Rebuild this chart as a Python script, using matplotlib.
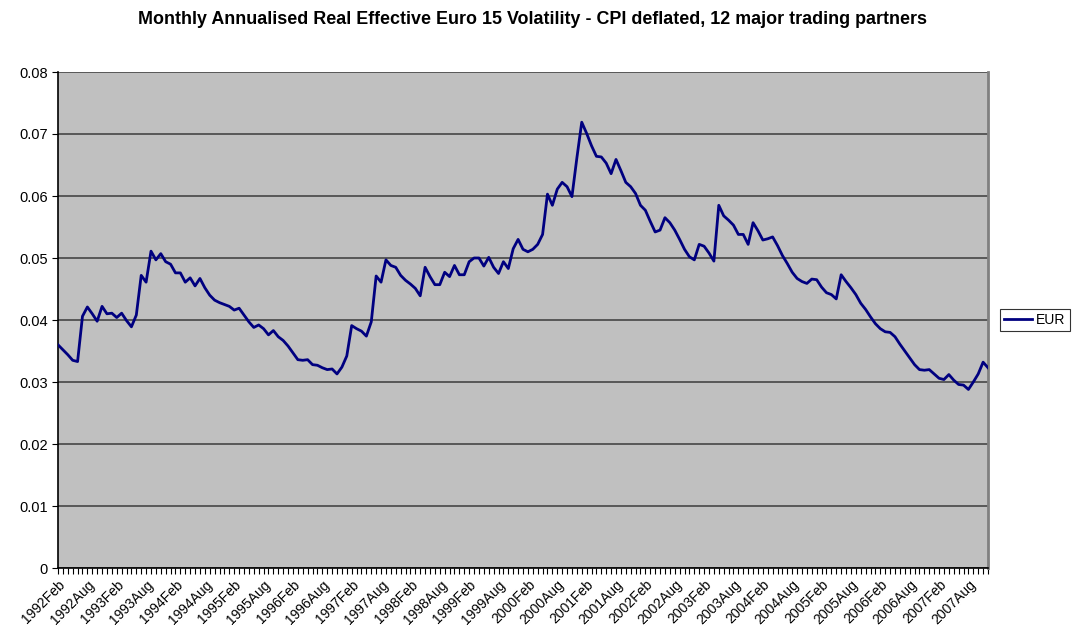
import numpy as np
import pandas as pd
import matplotlib
matplotlib.use("Agg")
import matplotlib.pyplot as plt

plt.rcParams['font.family'] = ['Liberation Sans', 'DejaVu Sans']

# monthly series, 1992 Feb .. 2007 Dec
eur = [
    0.0360, 0.0352, 0.0344, 0.0335, 0.0333, 0.0406, 0.0421, 0.0410, 0.0398, 0.0422,
    0.0410, 0.0411, 0.0404, 0.0411, 0.0399, 0.0389, 0.0408, 0.0472, 0.0461, 0.0511,
    0.0497, 0.0507, 0.0494, 0.0490, 0.0476, 0.0476, 0.0461, 0.0468, 0.0455, 0.0467,
    0.0452, 0.0440, 0.0432, 0.0428, 0.0425, 0.0422, 0.0416, 0.0419, 0.0408, 0.0397,
    0.0388, 0.0392, 0.0386, 0.0376, 0.0383, 0.0373, 0.0367, 0.0358, 0.0347, 0.0336,
    0.0335, 0.0336, 0.0328, 0.0327, 0.0323, 0.0320, 0.0321, 0.0313, 0.0324, 0.0342,
    0.0391, 0.0386, 0.0382, 0.0374, 0.0397, 0.0471, 0.0461, 0.0497, 0.0488, 0.0485,
    0.0472, 0.0464, 0.0458, 0.0451, 0.0439, 0.0485, 0.0470, 0.0457, 0.0457, 0.0477,
    0.0470, 0.0488, 0.0473, 0.0473, 0.0494, 0.0500, 0.0500, 0.0487, 0.0501, 0.0485,
    0.0475, 0.0494, 0.0483, 0.0515, 0.0530, 0.0514, 0.0510, 0.0514, 0.0522, 0.0538,
    0.0603, 0.0585, 0.0611, 0.0622, 0.0615, 0.0599, 0.0661, 0.0719, 0.0701, 0.0681,
    0.0664, 0.0663, 0.0653, 0.0636, 0.0659, 0.0641, 0.0622, 0.0615, 0.0604, 0.0585,
    0.0577, 0.0559, 0.0542, 0.0545, 0.0565, 0.0557, 0.0545, 0.0530, 0.0514, 0.0502,
    0.0497, 0.0522, 0.0519, 0.0508, 0.0495, 0.0585, 0.0568, 0.0561, 0.0553, 0.0538,
    0.0538, 0.0522, 0.0557, 0.0544, 0.0529, 0.0531, 0.0534, 0.0520, 0.0504, 0.0491,
    0.0477, 0.0467, 0.0462, 0.0459, 0.0466, 0.0465, 0.0453, 0.0444, 0.0441, 0.0434,
    0.0473, 0.0462, 0.0452, 0.0441, 0.0427, 0.0417, 0.0405, 0.0394, 0.0386, 0.0381,
    0.0380, 0.0373, 0.0361, 0.0350, 0.0339, 0.0328, 0.0320, 0.0319, 0.0320, 0.0313,
    0.0306, 0.0304, 0.0312, 0.0303, 0.0296, 0.0295, 0.0288, 0.0300, 0.0313, 0.0332,
    0.0323,
]
months = pd.date_range('1992-02-01', periods=len(eur), freq='MS').strftime('%Y%b').tolist()
y_ticks = [0, 0.01, 0.02, 0.03, 0.04, 0.05, 0.06, 0.07, 0.08]
y_labels = ['0', '0.01', '0.02', '0.03', '0.04', '0.05', '0.06', '0.07', '0.08']

x = np.arange(len(eur))

fig = plt.figure(figsize=(10.76, 6.39), dpi=100)
ax = fig.add_axes([58/1076, 1 - 568/639, 930/1076, 496/639])
ax.set_facecolor('#c0c0c0')

ax.plot(x, eur, color='#000080', lw=2.0, label='EUR', zorder=3)

ax.set_xlim(0, len(eur) - 1)
ax.set_ylim(0, 0.08)
ax.set_yticks(y_ticks)
ax.set_yticklabels(y_labels, fontsize=10.5)
ax.yaxis.grid(True, color='#505050', lw=1.3)
ax.set_axisbelow(True)

ax.set_xticks(x[::6])
ax.set_xticklabels(months[::6], rotation=45, ha='right', rotation_mode='anchor', fontsize=10)
ax.set_xticks(x, minor=True)
ax.tick_params(axis='x', which='both', length=4, width=0.8, direction='out', pad=3)
ax.tick_params(axis='y', length=4, width=0.8)

for s in ['left', 'bottom']:
    ax.spines[s].set_color('black')
    ax.spines[s].set_linewidth(1.2)
ax.spines['top'].set_visible(False)
ax.spines['right'].set_color('#808080')
ax.spines['right'].set_linewidth(2)

fig.text(533/1076, 1 - 20/639, 'Monthly Annualised Real Effective Euro 15 Volatility - CPI deflated, 12 major trading partners',
         ha='center', va='center', fontsize=12.9, fontweight='bold')

leg = fig.legend(loc='center left', bbox_to_anchor=(1000/1076, 1 - 320/639), fontsize=10,
                 frameon=True, fancybox=False, edgecolor='black', handlelength=2.0,
                 borderpad=0.3, handletextpad=0.3, borderaxespad=0)
leg.get_frame().set_linewidth(0.8)

fig.savefig('out.png', dpi=100)
